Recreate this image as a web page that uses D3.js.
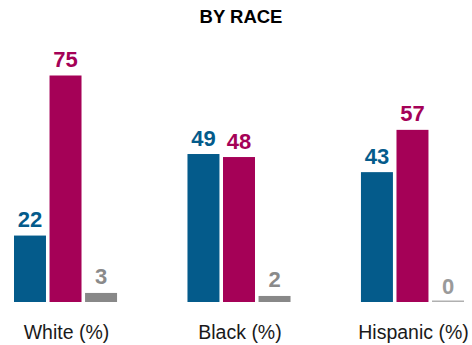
<!DOCTYPE html>
<html>
<head>
<meta charset="utf-8">
<script src="https://cdn.jsdelivr.net/npm/d3@7/dist/d3.min.js"></script>
<style>
  html, body { margin: 0; padding: 0; background: #fff; }
  svg { display: block; font-family: "Liberation Sans", Arial, sans-serif; }
</style>
</head>
<body>
<svg id="chart" width="472" height="345"></svg>
<script>
// Groups along the x axis and the three series shown per group
const groups = ["White (%)", "Black (%)", "Hispanic (%)"];
const seriesNames = ["blue", "maroon", "gray"];
const blueValues = [22, 49, 43];
const maroonValues = [75, 48, 57];
const grayValues = [3, 2, 0];
const seriesColors = ["#045b8b", "#a50157", "#888888"];
const labelColors = ["#045b8b", "#a50157", "#8a8a8a"];
const title = "BY RACE";

const svg = d3.select("#chart");
const width = 472;

const x0 = d3.scaleBand().domain(groups).range([14, 464]).paddingInner(0.406).paddingOuter(0);
const x1 = d3.scaleBand().domain(seriesNames).range([0, x0.bandwidth()]).paddingInner(0.1).paddingOuter(0);
const y = d3.scaleLinear().domain([0, 100]).range([302, 0]);

const allValues = [blueValues, maroonValues, grayValues];
const rows = groups.map((g, i) => ({
  group: g,
  items: seriesNames.map((s, k) => ({ series: s, value: allValues[k][i], k }))
}));

svg.append("text")
  .attr("x", width / 2 + 5)
  .attr("y", 23)
  .attr("text-anchor", "middle")
  .attr("font-size", 18.5)
  .attr("font-weight", "bold")
  .attr("fill", "#000")
  .text(title);

const g = svg.selectAll("g.group").data(rows).join("g")
  .attr("class", "group")
  .attr("transform", d => `translate(${x0(d.group)},0)`);

// Bars; a zero value is shown as a thin rule on the baseline
g.selectAll("rect.bar").data(d => d.items).join("rect")
  .attr("class", "bar")
  .attr("x", d => x1(d.series))
  .attr("width", x1.bandwidth())
  .attr("y", d => d.value > 0 ? y(d.value) : y(0) - 1.5)
  .attr("height", d => d.value > 0 ? y(0) - y(d.value) : 1.5)
  .attr("fill", d => d.value > 0 ? seriesColors[d.k] : "#b0b0b0");

// Value labels above each bar
g.selectAll("text.val").data(d => d.items).join("text")
  .attr("class", "val")
  .attr("x", d => x1(d.series) + x1.bandwidth() / 2)
  .attr("y", d => y(d.value) - 8.5)
  .attr("text-anchor", "middle")
  .attr("font-size", 22)
  .attr("font-weight", "bold")
  .attr("fill", d => d.value > 0 ? labelColors[d.k] : "#9a9a9a")
  .text(d => d.value);

// Category labels under each group
g.append("text")
  .attr("x", x0.bandwidth() / 2 + 1)
  .attr("y", 339)
  .attr("text-anchor", "middle")
  .attr("font-size", 19.5)
  .attr("fill", "#1a1a1a")
  .text(d => d.group);
</script>
</body>
</html>
